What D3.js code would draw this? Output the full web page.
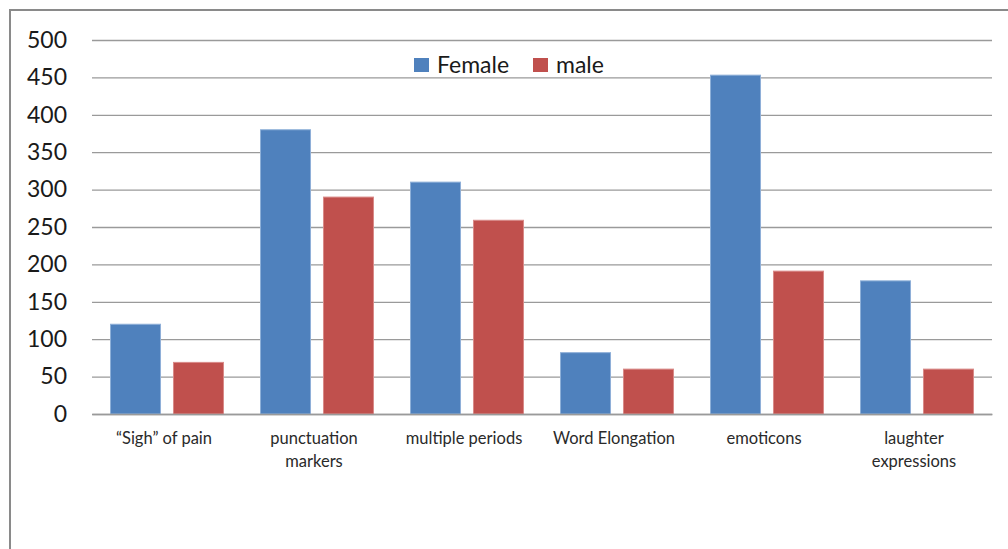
<!DOCTYPE html>
<html>
<head>
<meta charset="utf-8">
<script src="https://cdn.jsdelivr.net/npm/d3@7"></script>
<style>
  body { margin: 0; background: #fff; }
  svg text { font-family: Lato, "Open Sans", sans-serif; fill: #222; }
</style>
</head>
<body>
<div id="chart"></div>
<script>
var categories = ['\u201CSigh\u201D of pain', 'punctuation|markers', 'multiple periods', 'Word Elongation', 'emoticons', 'laughter|expressions'];
var seriesNames = ['Female', 'male'];
var female = [120, 380, 310, 82, 453, 178];
var male = [69, 290, 259, 60, 191, 60];
var yTicks = [0, 50, 100, 150, 200, 250, 300, 350, 400, 450, 500];
var colors = ['#4F81BD', '#C0504D'];

(function() {
  var WIDTH = 1008, HEIGHT = 549;
  var margin = {left: 92, right: 16, top: 40, bottom: 135};

  var svg = d3.select('#chart').append('svg')
    .attr('width', WIDTH)
    .attr('height', HEIGHT);

  // outer frame, only top and left edges visible
  svg.append('rect')
    .attr('x', 10).attr('y', 10)
    .attr('width', WIDTH + 20).attr('height', HEIGHT + 20)
    .style('fill', 'none')
    .style('stroke', '#8a8a8a')
    .style('stroke-width', 2);

  var rows = categories.map(function(c, i) {
    return {cat: c, values: [female[i], male[i]]};
  });

  var x0 = d3.scaleBand()
    .domain(categories)
    .range([margin.left, WIDTH - margin.right]);

  var x1 = d3.scaleBand()
    .domain(seriesNames)
    .range([0, x0.bandwidth()])
    .paddingInner(0.206)
    .paddingOuter(0.294);

  var y = d3.scaleLinear()
    .domain([0, 500])
    .range([HEIGHT - margin.bottom, margin.top]);

  // gridlines + y labels
  var yAxis = d3.axisLeft(y)
    .tickValues(yTicks)
    .tickSize(-(WIDTH - margin.left - margin.right))
    .tickPadding(25);

  var gy = svg.append('g')
    .attr('transform', 'translate(' + margin.left + ',0)')
    .call(yAxis);
  gy.select('.domain').remove();
  gy.selectAll('.tick line')
    .style('stroke', '#9a9a9a')
    .style('stroke-width', 1.3);
  gy.selectAll('.tick text')
    .style('font-size', '23px')
    .style('font-family', 'Lato, sans-serif')
    .style('fill', '#1a1a1a');

  var groups = svg.selectAll('.cat')
    .data(rows)
    .enter()
      .append('g')
      .attr('class', 'cat')
      .attr('transform', function(d) {
        return 'translate(' + x0(d.cat) + ',0)';
      });

  groups.selectAll('rect')
    .data(function(d) {
      return d.values.map(function(v, i) { return {name: seriesNames[i], value: v, idx: i}; });
    })
    .enter()
      .append('rect')
      .attr('x', function(d) { return x1(d.name); })
      .attr('y', function(d) { return y(d.value); })
      .attr('width', x1.bandwidth())
      .attr('height', function(d) { return y(0) - y(d.value); })
      .style('fill', function(d) { return colors[d.idx]; })
      .style('stroke', function(d) { return d.idx ? '#d98a88' : '#8fb0d8'; })
      .style('stroke-width', 1);

  // x axis baseline + labels
  var xAxis = d3.axisBottom(x0)
    .tickSize(0)
    .tickFormat('');
  var gx = svg.append('g')
    .attr('transform', 'translate(0,' + y(0) + ')')
    .call(xAxis);
  gx.select('.domain')
    .style('stroke', '#9a9a9a')
    .style('stroke-width', 1.5);

  gx.selectAll('.tick').each(function(d) {
    var lines = d.split('|');
    var t = d3.select(this).append('text')
      .attr('text-anchor', 'middle')
      .style('font-size', '16.5px')
      .style('fill', '#2a2a2a');
    lines.forEach(function(l, i) {
      t.append('tspan')
        .attr('x', -3)
        .attr('y', 30 + i * 23)
        .text(l);
    });
  });

  // legend
  var legend = svg.append('g').attr('transform', 'translate(414,58)');
  var offsets = [0, 119];
  seriesNames.forEach(function(n, i) {
    var g = legend.append('g').attr('transform', 'translate(' + offsets[i] + ',0)');
    g.append('rect')
      .attr('width', 15).attr('height', 14)
      .style('fill', colors[i]);
    g.append('text')
      .attr('x', 23).attr('y', 14.5)
      .style('font-size', '23px')
      .style('fill', '#1a1a1a')
      .text(n);
  });
})();
</script>
</body>
</html>
